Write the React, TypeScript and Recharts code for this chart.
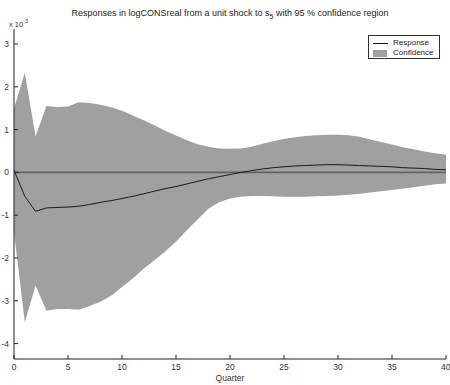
import { Area, ComposedChart, Line, ReferenceLine, XAxis, YAxis } from "recharts"

// Impulse response of logCONSreal to a shock in s5, values in units of 1e-3.
const quarters = [
  0, 1, 2, 3, 4, 5, 6, 7, 8, 9, 10, 11, 12, 13, 14, 15, 16, 17, 18, 19, 20,
  21, 22, 23, 24, 25, 26, 27, 28, 29, 30, 31, 32, 33, 34, 35, 36, 37, 38, 39, 40,
]
const response = [
  0.05, -0.56, -0.91, -0.83, -0.82, -0.81, -0.79, -0.75, -0.7, -0.66, -0.61,
  -0.56, -0.5, -0.44, -0.38, -0.33, -0.27, -0.21, -0.15, -0.1, -0.05,
  0.0, 0.04, 0.08, 0.11, 0.13, 0.15, 0.16, 0.17, 0.18, 0.18,
  0.17, 0.16, 0.15, 0.14, 0.13, 0.11, 0.1, 0.09, 0.07, 0.06,
]
const upper = [
  1.5, 2.33, 0.84, 1.55, 1.53, 1.54, 1.64, 1.62, 1.58, 1.52, 1.44,
  1.33, 1.22, 1.1, 0.97, 0.86, 0.75, 0.66, 0.6, 0.56, 0.55,
  0.56, 0.6, 0.67, 0.73, 0.78, 0.82, 0.85, 0.87, 0.88, 0.88,
  0.87, 0.83, 0.77, 0.71, 0.65, 0.59, 0.54, 0.49, 0.45, 0.41,
]
const lower = [
  -1.4, -3.5, -2.64, -3.23, -3.19, -3.19, -3.21, -3.12, -3.02, -2.88, -2.68,
  -2.48, -2.25, -2.05, -1.85, -1.62, -1.35, -1.1, -0.85, -0.7, -0.61,
  -0.57, -0.55, -0.55, -0.56, -0.57, -0.57, -0.57, -0.56, -0.55, -0.54,
  -0.52, -0.5, -0.47, -0.44, -0.41, -0.38, -0.35, -0.31, -0.28, -0.26,
]
const xTicks = [0, 5, 10, 15, 20, 25, 30, 35, 40]
const yTicks = [-4, -3, -2, -1, 0, 1, 2, 3]

const FONT = "'Liberation Sans', Arial, sans-serif"
const BAND = "#a0a0a0"
const AXIS = "#222"

const data = quarters.map((q, i) => ({
  q,
  response: response[i],
  band: [lower[i], upper[i]],
}))

export default function App() {
  return (
    <div style={{ position: "absolute", left: 0, top: 0, width: 450, height: 385, background: "#fff", fontFamily: FONT }}>
      <style>{`body{margin:0}`}</style>
      <ComposedChart width={450} height={385} data={data} margin={{ top: 29, right: 4, bottom: 0, left: 0 }}>
        <XAxis
          dataKey="q"
          type="number"
          domain={[0, 40]}
          ticks={xTicks}
          height={26}
          tickSize={-4}
          tickMargin={9}
          stroke={AXIS}
          tick={{ fontSize: 8.5, fill: "#333", fontFamily: FONT }}
        />
        <YAxis
          type="number"
          domain={[-4.36, 3.35]}
          ticks={yTicks}
          width={14}
          tickSize={-4}
          tickMargin={9}
          stroke={AXIS}
          allowDataOverflow
          tick={{ fontSize: 8.5, fill: "#333", fontFamily: FONT }}
        />
        <Area
          dataKey="band"
          name="Confidence"
          type="linear"
          stroke="none"
          fill={BAND}
          fillOpacity={1}
          isAnimationActive={false}
        />
        <ReferenceLine y={0} stroke="#626262" strokeWidth={1.6} />
        <Line
          dataKey="response"
          name="Response"
          type="linear"
          stroke="#1a1a1a"
          strokeWidth={1}
          dot={false}
          isAnimationActive={false}
        />
      </ComposedChart>

      <div style={{ position: "absolute", left: 0, width: 460, top: 8, textAlign: "center", fontSize: 9, color: "#222" }}>
        Responses in logCONSreal from a unit shock to s<sub style={{ fontSize: 7 }}>5</sub> with 95 % confidence region
      </div>
      <div style={{ position: "absolute", left: 9, top: 18, fontSize: 7.5, color: "#333" }}>
        x 10<sup style={{ fontSize: 5.5 }}>-3</sup>
      </div>
      <div style={{ position: "absolute", left: 0, width: 460, top: 373, textAlign: "center", fontSize: 8.5, color: "#333" }}>
        Quarter
      </div>

      <div
        style={{
          position: "absolute",
          left: 368,
          top: 35,
          width: 70,
          height: 22,
          border: "1px solid #333",
          background: "#fff",
          fontSize: 8,
          color: "#222",
          lineHeight: "10px",
        }}
      >
        <div style={{ display: "flex", alignItems: "center", marginTop: 2 }}>
          <span style={{ display: "inline-block", width: 15, height: 1, background: "#111", marginLeft: 4, marginRight: 5 }} />
          Response
        </div>
        <div style={{ display: "flex", alignItems: "center" }}>
          <span style={{ display: "inline-block", width: 14, height: 7, background: BAND, marginLeft: 4, marginRight: 6 }} />
          Confidence
        </div>
      </div>
    </div>
  )
}
